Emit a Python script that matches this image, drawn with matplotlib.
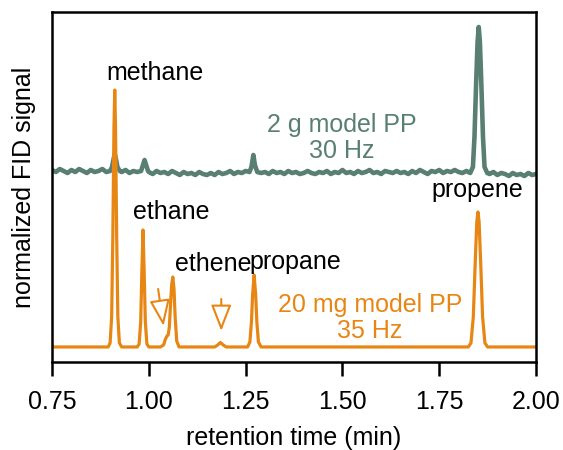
import numpy as np
import matplotlib
matplotlib.use('Agg')
import matplotlib.pyplot as plt

plt.rcParams['font.family'] = ['Liberation Sans', 'DejaVu Sans']

# 20 mg model PP, 35 Hz (orange trace)
orange_t = [0.750, 0.895, 0.900, 0.904, 0.907, 0.910, 0.912, 0.914, 0.917, 0.920, 0.924, 0.930,
            0.970, 0.975, 0.979, 0.982, 0.985, 0.988, 0.991, 0.995, 1.000,
            1.030, 1.038, 1.043, 1.047, 1.050, 1.053, 1.056, 1.059, 1.062, 1.065, 1.068, 1.072, 1.078,
            1.170, 1.178, 1.185, 1.192, 1.200,
            1.255, 1.261, 1.265, 1.268, 1.272, 1.276, 1.279, 1.283, 1.290,
            1.825, 1.832, 1.838, 1.843, 1.847, 1.850, 1.853, 1.857, 1.862, 1.868, 1.875, 2.000]
orange_y = [0.00, 0.00, 0.04, 0.30, 1.10, 2.20, 2.57, 2.20, 1.10, 0.30, 0.04, 0.00,
            0.00, 0.03, 0.25, 0.75, 1.17, 0.75, 0.25, 0.03, 0.00,
            0.00, 0.02, 0.08, 0.11, 0.12, 0.20, 0.42, 0.62, 0.70, 0.58, 0.30, 0.06, 0.00,
            0.00, 0.02, 0.045, 0.02, 0.00,
            0.00, 0.05, 0.25, 0.52, 0.72, 0.52, 0.25, 0.05, 0.00,
            0.00, 0.04, 0.30, 0.85, 1.25, 1.35, 1.25, 0.85, 0.30, 0.04, 0.00, 0.00]

# 2 g model PP, 30 Hz (green trace): noisy baseline every 0.01 min from 0.75 to 2.00
green_base_y = [1.77, 1.75, 1.78, 1.76, 1.74, 1.77, 1.75, 1.78, 1.76, 1.74,
                1.77, 1.75, 1.76, 1.78, 1.75, 1.76, 1.76, 1.76, 1.75, 1.77,
                1.74, 1.76, 1.75, 1.77, 1.76, 1.75, 1.73, 1.76, 1.74, 1.75,
                1.73, 1.76, 1.74, 1.72, 1.75, 1.73, 1.74, 1.72, 1.75, 1.73,
                1.72, 1.74, 1.72, 1.75, 1.73, 1.74, 1.76, 1.73, 1.75, 1.74,
                1.76, 1.75, 1.75, 1.75, 1.74, 1.75, 1.73, 1.76, 1.74, 1.75,
                1.73, 1.76, 1.74, 1.75, 1.73, 1.74, 1.76, 1.74, 1.73, 1.75,
                1.74, 1.76, 1.73, 1.75, 1.74, 1.77, 1.74, 1.75, 1.73, 1.76,
                1.74, 1.75, 1.77, 1.74, 1.75, 1.73, 1.76, 1.75, 1.74, 1.76,
                1.74, 1.75, 1.73, 1.76, 1.74, 1.77, 1.75, 1.73, 1.76, 1.75,
                1.77, 1.74, 1.76, 1.75, 1.77, 1.75, 1.74, 1.76, 1.75, 1.75,
                1.75, 1.75, 1.75, 1.73, 1.75, 1.72, 1.74, 1.73, 1.71, 1.74,
                1.72, 1.73, 1.71, 1.74, 1.72, 1.73]
green_peaks = [
    ([0.900, 0.905, 0.909, 0.912, 0.915, 0.919, 0.925], [1.76, 1.80, 1.88, 1.93, 1.88, 1.80, 1.76]),
    ([0.980, 0.985, 0.989, 0.993, 0.998], [1.76, 1.82, 1.87, 1.82, 1.76]),
    ([1.260, 1.265, 1.270, 1.274, 1.279], [1.75, 1.80, 1.92, 1.82, 1.76]),
    ([1.830, 1.837, 1.841, 1.845, 1.849, 1.852, 1.855, 1.859, 1.863, 1.867, 1.874],
     [1.74, 1.80, 2.10, 2.60, 3.05, 3.20, 3.05, 2.60, 2.10, 1.80, 1.74]),
]

# peak labels: (text, t, y)
labels = [('methane', 1.016, 2.74), ('ethane', 1.057, 1.35), ('ethene', 1.166, 0.83),
          ('propane', 1.378, 0.85), ('propene', 1.848, 1.57)]
# arrows pointing at minor peaks: (start, tip)
arrows = [((1.024, 0.58), (1.038, 0.21)), ((1.187, 0.48), (1.187, 0.16))]

orange = '#E88614'
green = '#587F72'

# merge green baseline with the peak segments
green_base_t = np.round(np.arange(0.75, 2.0001, 0.01), 3)
gt = list(green_base_t)
gy = list(green_base_y)
for pt, py in green_peaks:
    keep = [(t, y) for t, y in zip(gt, gy) if t < pt[0] or t > pt[-1]]
    keep += list(zip(pt, py))
    keep.sort()
    gt = [k[0] for k in keep]
    gy = [k[1] for k in keep]

fig = plt.figure(figsize=(5.63, 4.5), dpi=100)
ax = fig.add_axes([0.0924, 0.1956, 0.8597, 0.7777])

ax.plot(gt, gy, color=green, lw=3.3, solid_joinstyle='round')
ax.plot(orange_t, orange_y, color=orange, lw=2.3, solid_joinstyle='round')

fs = 18
for txt, t, y in labels:
    ax.text(t, y, txt, ha='center', va='center', fontsize=fs, color='black')
ax.text(1.499, 2.09, '2 g model PP\n30 Hz', ha='center', va='center', fontsize=fs,
        color=green, linespacing=1.1)
ax.text(1.571, 0.29, '20 mg model PP\n35 Hz', ha='center', va='center', fontsize=fs,
        color=orange, linespacing=1.1)

for start, tip in arrows:
    ax.annotate('', xy=tip, xytext=start,
                arrowprops=dict(arrowstyle='-|>,head_length=0.9,head_width=0.35',
                                mutation_scale=18, color=orange, fc='white', lw=1.5,
                                shrinkA=0, shrinkB=0))

ax.set_xlim(0.75, 2.00)
ax.set_ylim(-0.15, 3.35)
ax.set_xticks([0.75, 1.00, 1.25, 1.50, 1.75, 2.00])
ax.set_xticklabels(['0.75', '1.00', '1.25', '1.50', '1.75', '2.00'])
ax.set_yticks([])
ax.tick_params(axis='x', direction='out', length=10, width=1.8, labelsize=fs, pad=10)
for s in ax.spines.values():
    s.set_linewidth(1.8)
ax.set_xlabel('retention time (min)', fontsize=fs, labelpad=9)
ax.set_ylabel('normalized FID signal', fontsize=fs)
ax.yaxis.set_label_coords(-0.033, 0.5)

fig.savefig('out.png', dpi=100)
